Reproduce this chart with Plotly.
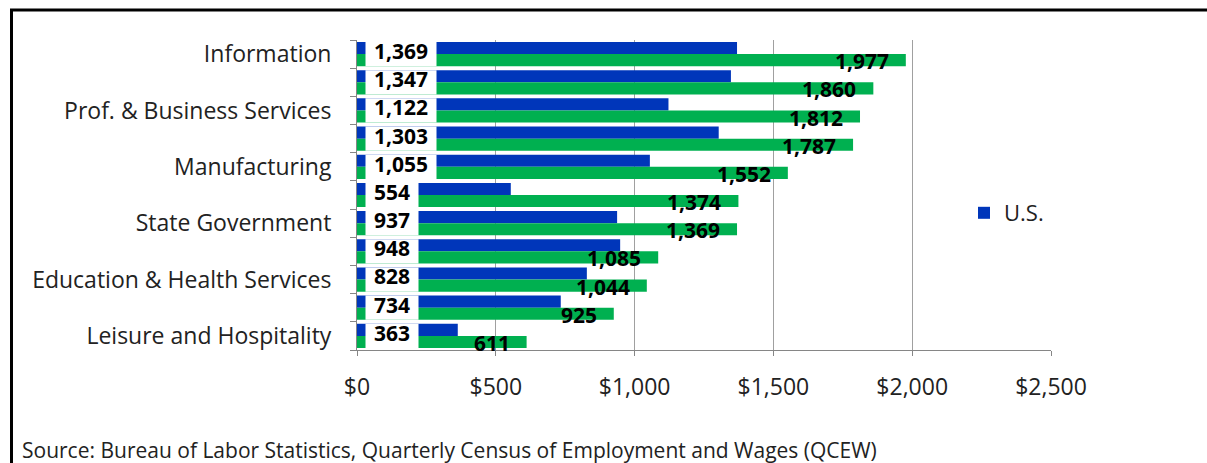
import plotly.graph_objects as go

# Average weekly wage by industry: U.S. vs. state
tick_labels = [
    "Information", "", "Prof. & Business Services", "", "Manufacturing", "",
    "State Government", "", "Education & Health Services", "", "Leisure and Hospitality",
]
us_wages = [1369, 1347, 1122, 1303, 1055, 554, 937, 948, 828, 734, 363]
state_wages = [1977, 1860, 1812, 1787, 1552, 1374, 1369, 1085, 1044, 925, 611]
x_tick_vals = [0, 500, 1000, 1500, 2000, 2500]
x_tick_text = ["$0", "$500", "$1,000", "$1,500", "$2,000", "$2,500"]
source_note = "Source: Bureau of Labor Statistics, Quarterly Census of Employment and Wages (QCEW)"

BLUE = "#0036BA"
GREEN = "#00B050"
TEXT = "#222222"
GRID = "#A0A0A0"
FONT = "Open Sans"

W, H = 1207, 463
M = dict(l=357, r=156, t=40, b=113)
PW = W - M["l"] - M["r"]
PH = H - M["t"] - M["b"]

def px_x(px):
    return (px - M["l"]) / PW

def px_y(py):
    return (H - M["b"] - py) / PH

rows = list(range(len(tick_labels)))
BARGAP = 0.14
half_bar = (1 - BARGAP) / 4  # offset of each bar centre from the row centre

fig = go.Figure()
fig.add_trace(go.Bar(
    y=rows, x=us_wages, orientation="h", name="U.S.",
    marker=dict(color=BLUE, line=dict(width=0)), showlegend=True,
))
fig.add_trace(go.Bar(
    y=rows, x=state_wages, orientation="h", name="State",
    marker=dict(color=GREEN, line=dict(width=0)), showlegend=False,
))

shapes = []
annotations = []
for i, (us, st) in enumerate(zip(us_wages, state_wages)):
    us_txt = f"{us:,}"
    st_txt = f"{st:,}"
    box_w = 9 * len(us_txt) + 26
    # white label box sitting over the start of both bars
    shapes.append(dict(
        type="rect", xref="x", yref="y", xsizemode="pixel", xanchor=0,
        x0=8.5, x1=8.5 + box_w, y0=i - 2 * half_bar, y1=i + 2 * half_bar,
        fillcolor="white", line=dict(width=0), layer="above",
    ))
    annotations.append(dict(
        x=0, y=i - half_bar, xref="x", yref="y", text=us_txt, showarrow=False,
        xanchor="center", yanchor="middle", xshift=8.5 + box_w / 2, yshift=-3,
        font=dict(family=FONT, size=21, color="black", weight=700),
    ))
    annotations.append(dict(
        x=st, y=i + half_bar, xref="x", yref="y", text=st_txt, showarrow=False,
        xanchor="right", yanchor="middle", xshift=-15, yshift=-1,
        font=dict(family=FONT, size=21, color="black", weight=700),
    ))

annotations.append(dict(
    x=px_x(20), y=px_y(450), xref="paper", yref="paper", text=source_note,
    showarrow=False, xanchor="left", yanchor="middle",
    font=dict(family=FONT, size=21, color=TEXT),
))

# outer frame: top and left edges
shapes.append(dict(type="line", xref="paper", yref="paper",
                   x0=px_x(10), x1=px_x(W + 5), y0=px_y(10), y1=px_y(10),
                   line=dict(color="black", width=3)))
shapes.append(dict(type="line", xref="paper", yref="paper",
                   x0=px_x(11.5), x1=px_x(11.5), y0=px_y(9), y1=px_y(H + 5),
                   line=dict(color="black", width=3)))

fig.update_layout(
    width=W, height=H, margin=M,
    paper_bgcolor="white", plot_bgcolor="white",
    barmode="group", bargap=BARGAP, bargroupgap=0,
    font=dict(family=FONT, size=23, color=TEXT),
    shapes=shapes, annotations=annotations,
    legend=dict(
        x=px_x(964), y=px_y(213), xanchor="left", yanchor="middle",
        bgcolor="rgba(0,0,0,0)", font=dict(family=FONT, size=22, color=TEXT),
        itemwidth=30,
    ),
    xaxis=dict(
        range=[0, 2500], tickvals=x_tick_vals, ticktext=x_tick_text,
        showgrid=True, gridcolor=GRID, gridwidth=1.3,
        showline=True, linecolor="#868686", linewidth=1,
        ticks="outside", ticklen=5, tickcolor="#868686",
        ticklabelstandoff=11, zeroline=False,
        tickfont=dict(family=FONT, size=23, color=TEXT),
    ),
    yaxis=dict(
        range=[len(rows) - 0.5, -0.5], tickvals=rows, ticktext=tick_labels,
        showgrid=False, zeroline=False,
        showline=True, linecolor="#868686", linewidth=1,
        ticks="", ticklabelstandoff=20,
        minor=dict(tick0=-0.5, dtick=1, ticks="outside", ticklen=6,
                   tickcolor="#868686", showgrid=False),
        tickfont=dict(family=FONT, size=23, color=TEXT),
    ),
)

fig.write_html("out.html")
